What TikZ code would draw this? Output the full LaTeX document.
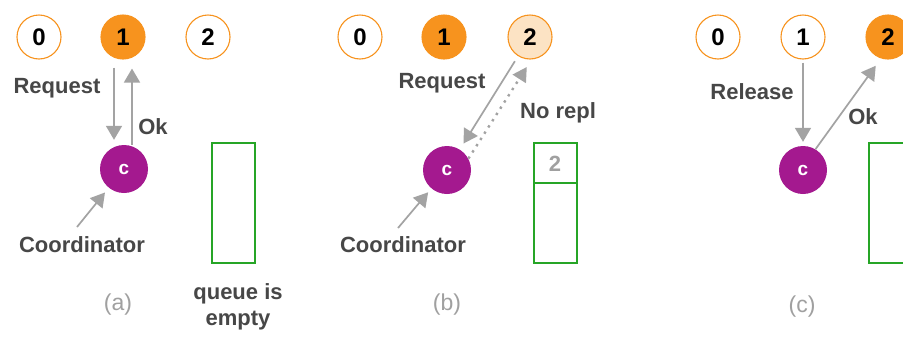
\documentclass[tikz,border=0pt]{standalone}
\usepackage{fontspec}
\setmainfont{Liberation Sans}
\usetikzlibrary{arrows.meta}
\definecolor{orangeC}{HTML}{F7931E}
\definecolor{peachC}{HTML}{FCE3C4}
\definecolor{purpleC}{HTML}{A4198F}
\definecolor{greenC}{HTML}{26A526}
\definecolor{arrowgray}{HTML}{A3A3A3}
\definecolor{labelgray}{HTML}{474747}
\definecolor{captiongray}{HTML}{A0A0A0}
\tikzset{
  proc/.style={circle, draw=orangeC, line width=1.1pt, fill=white, minimum size=44pt,
    inner sep=0pt, text=black, font=\bfseries\fontsize{24}{24}\selectfont},
  busy/.style={proc, fill=orangeC},
  waiting/.style={proc, fill=peachC},
  coordc/.style={circle, fill=purpleC, minimum size=48pt, inner sep=0pt, text=white,
    font=\bfseries\fontsize{19}{19}\selectfont},
  msg/.style={draw=arrowgray, line width=1.7pt, -{Triangle[length=14pt,width=16pt]}},
  lbl/.style={text=labelgray, inner sep=0pt, font=\bfseries\fontsize{22}{22}\selectfont},
  caption/.style={text=captiongray, inner sep=0pt, font=\fontsize{23}{23}\selectfont},
  queuebox/.style={draw=greenC, line width=1.5pt},
  queueitem/.style={text=captiongray, inner sep=0pt, font=\bfseries\fontsize{22}{22}\selectfont}
}
\begin{document}
\begin{tikzpicture}[x=1pt, y=-1pt]
  \fill[white] (0,0) rectangle (903,338);
  \clip (0,0) rectangle (903,338);

  % ---------- (a) process 1 asks and gets permission ----------
  \node[proc] (n0a) at (39,37) {0};
  \node[busy] (n1a) at (123,37) {1};
  \node[proc] (n2a) at (208,37) {2};
  \node[coordc] (cA) at (124,169) {c};
  \draw[msg, shorten <=8pt, shorten >=5pt] ([xshift=-9pt]n1a.south) -- ([xshift=-10pt]cA.north);
  \draw[msg, shorten >=9pt] ([xshift=8pt]cA.north) -- ([xshift=9pt]n1a.south);
  \node[lbl] (reqA) at (57,88) {Request};
  \node[lbl] (okA) at (153,127) {Ok};
  \coordinate (pa) at (77,227);
  \draw[msg, shorten >=6pt] (pa) -- (cA);
  \node[lbl] (coA) at (82,245) {Coordinator};
  \draw[queuebox] (212,143) rectangle (255,263);
  \node[lbl, align=center] (qA) at (238,307) {queue is\\[4pt]empty};
  \node[caption] (capA) at (118,305) {(a)};

  % ---------- (b) process 2 asks while 1 holds the resource ----------
  \node[proc] (n0b) at (360,37) {0};
  \node[busy] (n1b) at (444,37) {1};
  \node[waiting] (n2b) at (530,37) {2};
  \node[coordc] (cB) at (447,170) {c};
  \draw[msg, shorten <=6pt, shorten >=7pt] (n2b) -- (cB);
  \draw[msg, line width=2.4pt, dash pattern=on 2.4pt off 5pt, shorten >=9pt,
        -{Triangle[length=14pt,width=16pt,line width=0pt]}] (cB.28) -- (n2b.-86);
  \node[lbl] (reqB) at (442,83) {Request};
  \node[lbl, anchor=west] (noB) at (520,113) {No repl};
  \coordinate (pb) at (398,228);
  \draw[msg, shorten >=5pt] (pb) -- (cB);
  \node[lbl] (coB) at (403,245) {Coordinator};
  \draw[queuebox] (534,143) rectangle (577,263);
  \draw[queuebox] (534,183) -- (577,183);
  \node[queueitem] (qB) at (555,164) {2};
  \node[caption] (capB) at (447,305) {(b)};

  % ---------- (c) process 1 releases, 2 is granted ----------
  \node[proc] (n0c) at (718,37) {0};
  \node[proc] (n1c) at (803,37) {1};
  \node[busy] (n2c) at (888,37) {2};
  \node[coordc] (cC) at (803,170) {c};
  \draw[msg, shorten <=3pt, shorten >=4pt] (n1c) -- (cC);
  \draw[msg, shorten >=9pt] (cC.59) -- (n2c.252);
  \node[lbl] (relC) at (752,92) {Release};
  \node[lbl] (okC) at (863,117) {Ok};
  \draw[queuebox] (869,143) rectangle (915,263);
  \node[caption] (capC) at (802,307) {(c)};
\end{tikzpicture}
\end{document}
